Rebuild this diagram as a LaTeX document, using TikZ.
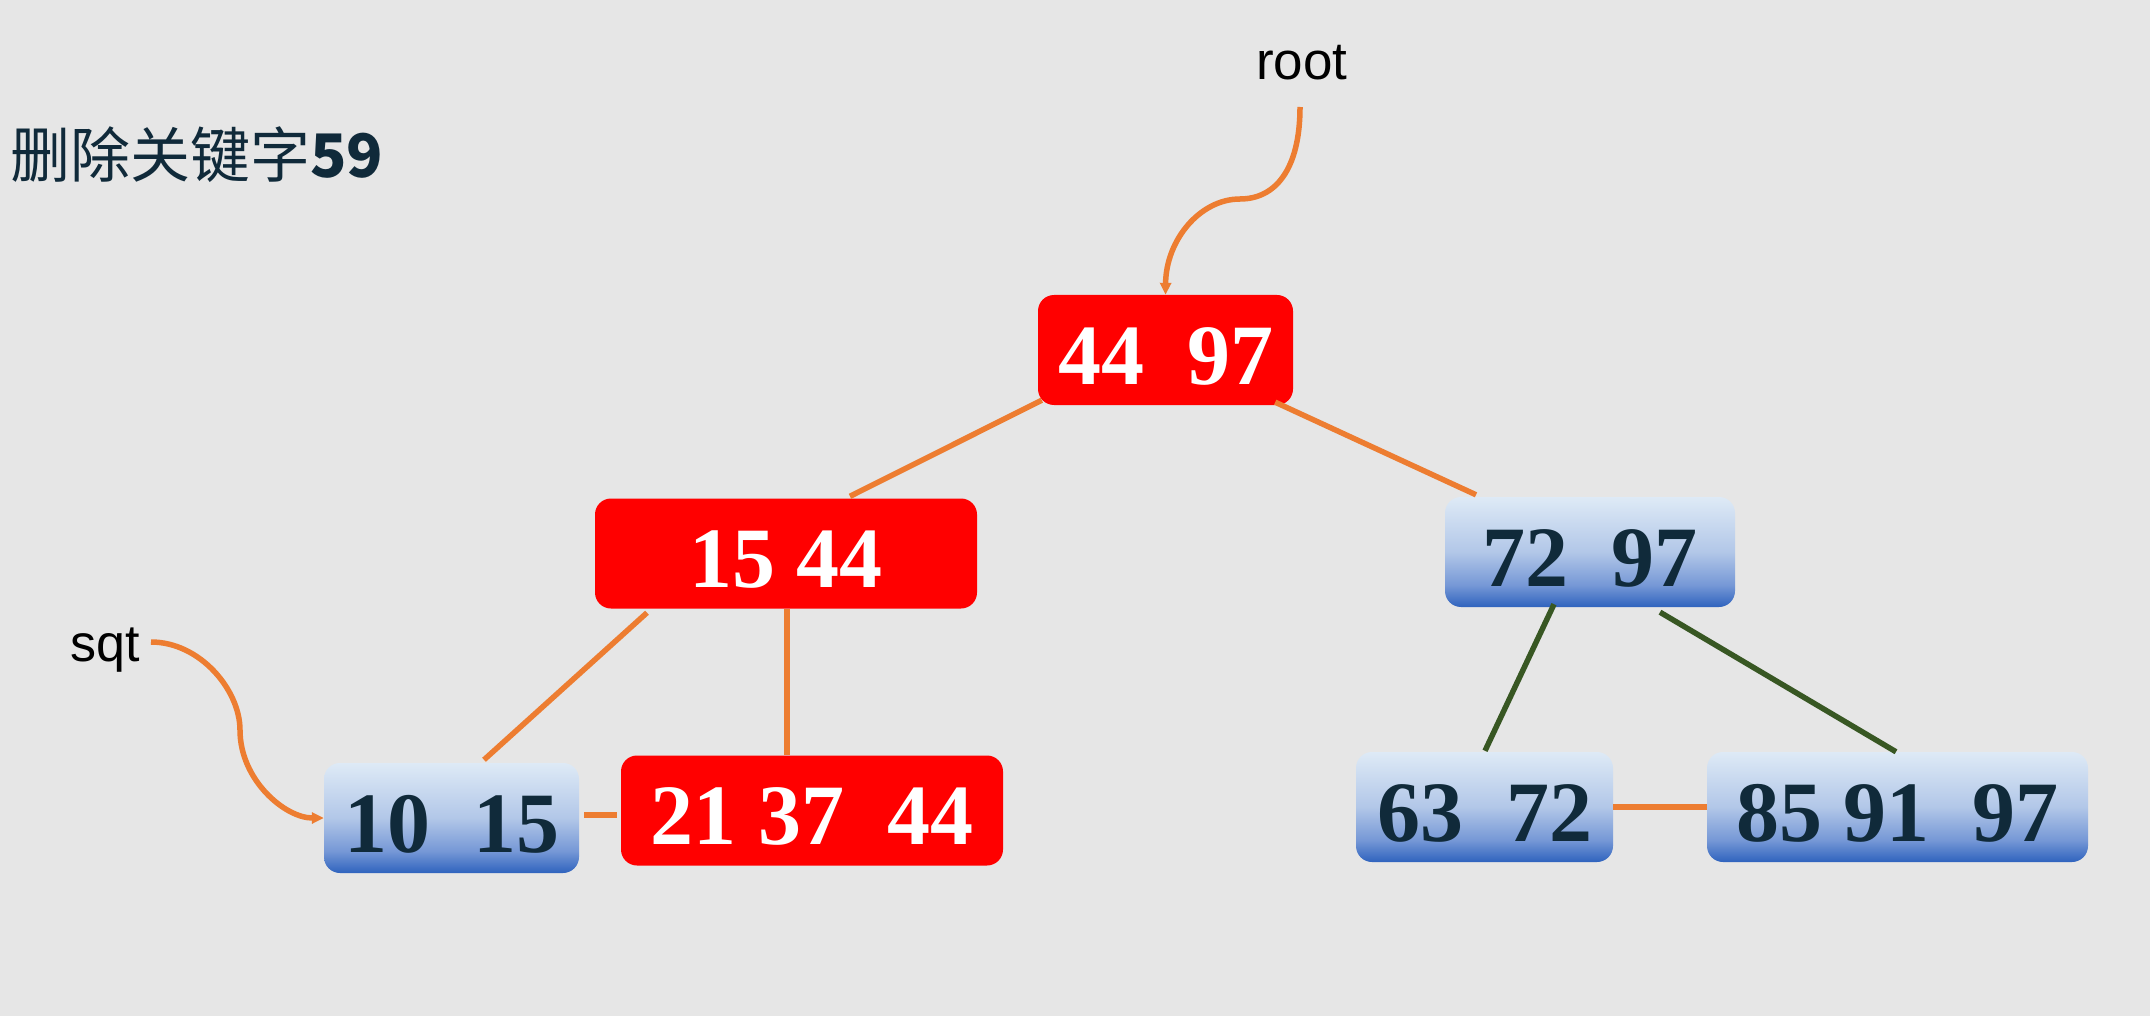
\documentclass[tikz,border=0pt]{standalone}
\usepackage{fontspec}
\setmainfont{Liberation Serif}
\newfontfamily\cjk{Noto Sans CJK SC}
\newfontfamily\lsans{Liberation Sans}
\usetikzlibrary{arrows.meta}
\definecolor{bgc}{RGB}{230,230,230}
\definecolor{nred}{RGB}{255,0,0}
\definecolor{orng}{RGB}{237,125,49}
\definecolor{dgreen}{RGB}{56,87,35}
\definecolor{navy}{RGB}{16,42,58}
\definecolor{gB}{RGB}{47,99,190}
\definecolor{gQ}{RGB}{118,152,214}
\definecolor{gM}{RGB}{178,199,232}
\definecolor{gT}{RGB}{222,234,246}
\pgfdeclareverticalshading{bgrad}{100bp}{color(0bp)=(gB); color(25bp)=(gB); color(35bp)=(gQ); color(50bp)=(gM); color(75bp)=(gT); color(100bp)=(gT)}
\begin{document}
\begin{tikzpicture}[x=1pt,y=-1pt,
  box/.style={rounded corners=16pt, minimum height=110pt, inner sep=0pt,
    font=\fontsize{86}{90}\selectfont\bfseries, text height=68pt, text depth=0pt},
  redbox/.style={box, fill=nred, text=white},
  bluebox/.style={box, shading=bgrad, text=navy},
  oline/.style={draw=orng, line width=5.5pt},
  gline/.style={draw=dgreen, line width=5.5pt},
  ptr/.style={draw=orng, line width=5.5pt, -{Triangle[length=12pt,width=11pt]}},
  lbl/.style={font=\lsans\fontsize{53}{60}\selectfont, inner sep=0pt, anchor=base west, text=black}
]
\useasboundingbox (0,0) rectangle (2150,1016);
\fill[bgc] (0,0) rectangle (2150,1016);

% title
\node[anchor=base west, inner sep=0pt, text=navy, font=\cjk\fontsize{60}{70}\selectfont] (title) at (10,178) {删除关键字\textbf{59}};

% labels
\node[lbl] (rootlbl) at (1256,80) {root};
\node[lbl, font=\lsans\fontsize{52}{60}\selectfont] (sqtlbl) at (70,661) {sqt};
\coordinate (rs) at (1300,107);
\coordinate (rm) at (1240,199);
\coordinate (ss) at (151,642);
\coordinate (sm) at (240,730);

% nodes
\node[redbox, minimum width=255pt] (root) at (1165.5,350) {44~~97};
\node[redbox, minimum width=382pt] (n1544) at (786,553.5) {15 44};
\node[bluebox, minimum width=290pt] (n7297) at (1590,552) {72~~97};
\node[bluebox, minimum width=255pt] (n1015) at (451.5,818) {10~~15};
\node[redbox, minimum width=382pt] (n213744) at (812,810.5) {21 37~~44};
\node[bluebox, minimum width=257pt] (n6372) at (1484.5,807) {63~~72};
\node[bluebox, minimum width=381pt] (n859197) at (1897.5,807) {85 91~~97};

% connectors
\draw[oline] ([shift={(4,-5)}]root.south west) -- ([shift={(64,-2)}]n1544.north);
\draw[oline] ([shift={(-18,-3)}]root.south east) -- ([shift={(-114,-2)}]n7297.north);
\draw[oline] ([shift={(-139,4)}]n1544.south) -- ([shift={(32.5,-3)}]n1015.north);
\draw[oline, line width=6pt] ([shift={(0.5,0)}]n1544.south) -- ([shift={(-25.5,0)}]n213744.north);
\draw[oline, line width=6pt] ([shift={(5,-3)}]n1015.east) -- ([shift={(-4,4.5)}]n213744.west);
\draw[gline] ([shift={(-36,-3)}]n7297.south) -- ([shift={(0.5,-1)}]n6372.north);
\draw[gline] ([shift={(70,5)}]n7297.south) -- ([shift={(-1.5,0)}]n859197.north);
\draw[oline, line width=6pt] (n6372.east) -- (n859197.west);

% pointers
\draw[ptr] (rs) .. controls (1300,170) and (1275,199) .. (rm)
  .. controls (1200,199) and (1166,240) .. (root.north);
\draw[ptr] (ss) .. controls (200,642) and (240,690) .. (sm)
  .. controls (240,780) and (285,818) .. (n1015.west);
\end{tikzpicture}
\end{document}
